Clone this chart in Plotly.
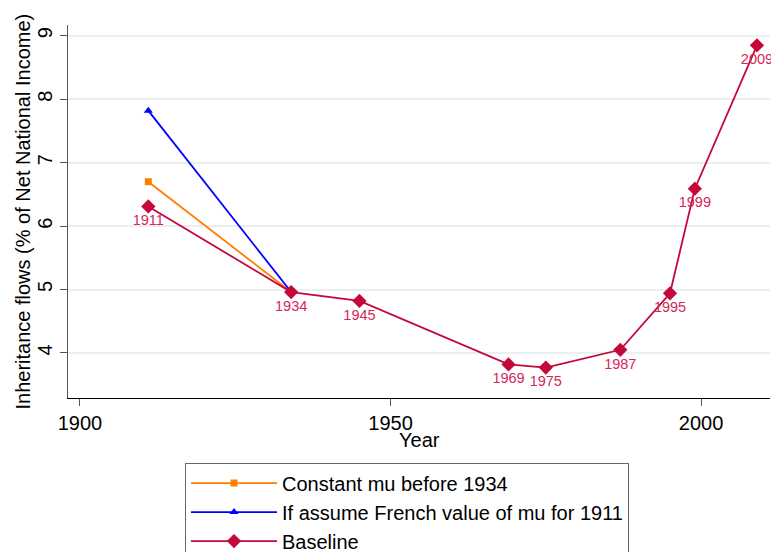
import plotly.graph_objects as go

years = [1911, 1934, 1945, 1969, 1975, 1987, 1995, 1999, 2009]
baseline = [6.31, 4.96, 4.82, 3.82, 3.77, 4.05, 4.94, 6.59, 8.85]
const_years = [1911, 1934]
const_mu = [6.70, 4.96]
french_years = [1911, 1934]
french_mu = [7.82, 4.96]
x_ticks = [1900, 1950, 2000]
y_ticks = [4, 5, 6, 7, 8, 9]

RED = "#C4083A"
FONT = "Liberation Sans, Arial, sans-serif"

fig = go.Figure()
fig.add_trace(go.Scatter(
    x=const_years, y=const_mu, mode="lines+markers", name="Constant mu before 1934",
    line=dict(color="#FF7F00", width=1.8), marker=dict(symbol="square", size=7, color="#FF7F00")))
fig.add_trace(go.Scatter(
    x=french_years, y=french_mu, mode="lines+markers", name="If assume French value of mu for 1911",
    line=dict(color="#0000FF", width=1.8), marker=dict(symbol="triangle-up", size=8, color="#0000FF")))
fig.add_trace(go.Scatter(
    x=years, y=baseline, mode="lines+markers+text", name="Baseline",
    text=[str(y) for y in years], textposition="bottom center", cliponaxis=False,
    textfont=dict(color="#D4275A", size=14.5, family=FONT),
    line=dict(color=RED, width=1.8), marker=dict(symbol="diamond", size=11, color=RED)))

fig.update_layout(
    width=779, height=620,
    margin=dict(l=60, r=17, t=17, b=230),
    paper_bgcolor="white", plot_bgcolor="white",
    font=dict(family=FONT, size=20, color="#000000"),
    showlegend=True,
    legend=dict(x=0.1667, y=-0.173, xanchor="left", yanchor="top",
                bordercolor="#666666", borderwidth=1, bgcolor="white",
                font=dict(size=20, family=FONT), tracegroupgap=0, itemwidth=86),
    xaxis=dict(range=[1898.07, 2011.1], tickvals=x_ticks, showgrid=False, zeroline=False,
               automargin=False, showline=True, linecolor="#000000", linewidth=1,
               ticks="outside", ticklen=7, tickcolor="#555555", tickfont=dict(size=20)),
    yaxis=dict(range=[3.29, 9.17], tickvals=y_ticks, showgrid=True, gridcolor="#E8F0F2", gridwidth=1.5,
               automargin=False, zeroline=False, showline=True, linecolor="#555555", linewidth=1,
               ticks="outside", ticklen=7, tickcolor="#555555", tickangle=-90, tickfont=dict(size=20)),
    annotations=[
        dict(text="Year", xref="paper", yref="paper", x=0.5, y=-0.112,
             xanchor="center", yanchor="middle", showarrow=False, font=dict(size=20)),
        dict(text="Inheritance flows (% of Net National Income)", xref="paper", yref="paper",
             x=-0.0655, y=0.5, xanchor="center", yanchor="middle", textangle=-90,
             showarrow=False, font=dict(size=20)),
    ],
)
fig.add_shape(type="line", xref="paper", yref="paper", x0=-0.1, x1=1.03, y0=1.062, y1=1.062,
              line=dict(color="#E8F0F2", width=2))

fig.write_html("out.html")
